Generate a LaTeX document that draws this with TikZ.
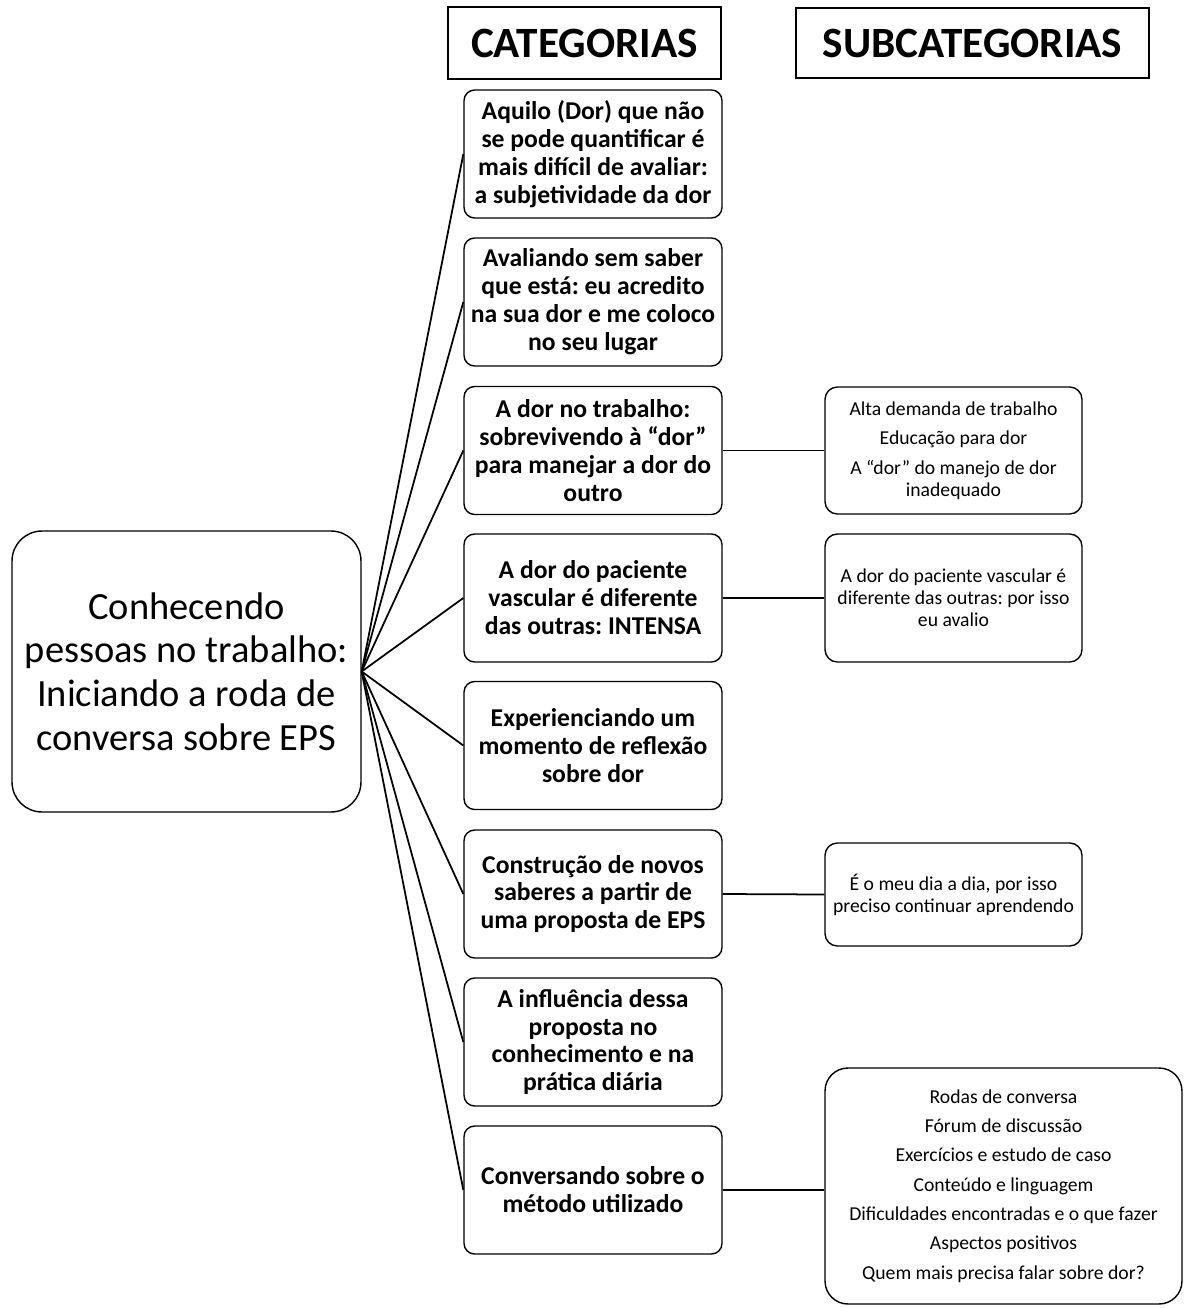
\documentclass[tikz,border=0pt]{standalone}
\usepackage{fontspec}
\setmainfont{Carlito}
\usepackage{tikz}
\frenchspacing

\begin{document}
\begin{tikzpicture} [x=0.02cm,y=-0.02cm,
  head/.style={draw, line width=0.9pt, inner sep=0pt, font=\fontsize{24.6}{28}\selectfont\bfseries},
  cat/.style={draw, line width=0.8pt, rounded corners=6pt, minimum width=5.16cm, minimum height=2.56cm, inner sep=0pt, align=center, font=\fontsize{14.6}{15.9}\selectfont\bfseries},
  sub/.style={draw, line width=0.8pt, rounded corners=7pt, minimum width=5.14cm, inner sep=0pt, align=center, font=\fontsize{11.2}{12.6}\selectfont},
  link/.style={line width=1pt}]
\useasboundingbox (0,0) rectangle (1184,1308);
% headers
\node [head, minimum width=5.46cm, minimum height=1.44cm] (hcat) at (584.5,43) {CATEGORIAS};
\node [head, minimum width=7.06cm, minimum height=1.40cm] (hsub) at (972.5,43) {SUBCATEGORIAS};
% central theme
\node [draw, line width=0.8pt, rounded corners=17pt, minimum width=6.98cm, minimum height=5.62cm, inner sep=0pt, align=center, font=\fontsize{21.9}{24.9}\selectfont] (main) at (186.5,671.5) {Conhecendo\\pessoas no trabalho:\\Iniciando a roda de\\conversa sobre EPS};
% categories
\node [cat] (c1) at (593,154) {Aquilo (Dor) que não\\se pode quantificar é\\mais difícil de avaliar:\\a subjetividade da dor};
\node [cat] (c2) at (593,302) {Avaliando sem saber\\que está: eu acredito\\na sua dor e me coloco\\no seu lugar};
\node [cat] (c3) at (593,450.5) {A dor no trabalho:\\sobrevivendo à “dor”\\para manejar a dor do\\outro};
\node [cat] (c4) at (593,598) {A dor do paciente\\vascular é diferente\\das outras: INTENSA};
\node [cat] (c5) at (593,745.5) {Experienciando um\\momento de reflexão\\sobre dor};
\node [cat] (c6) at (593,894) {Construção de novos\\saberes a partir de\\uma proposta de EPS};
\node [cat] (c7) at (593,1042) {A influência dessa\\proposta no\\conhecimento e na\\prática diária};
\node [cat] (c8) at (593,1190) {Conversando sobre o\\método utilizado};
% subcategories
\node [sub, minimum height=2.54cm] (s3) at (953.5,450.5) {Alta demanda de trabalho\\[4.1pt]Educação para dor\\[4.1pt]A “dor” do manejo de dor\\inadequado};
\node [sub, minimum height=2.56cm] (s4) at (953.5,598) {A dor do paciente vascular é\\diferente das outras: por isso\\eu avalio};
\node [sub, minimum height=2.06cm] (s6) at (953.5,894.5) {É o meu dia a dia, por isso\\preciso continuar aprendendo};
\node [sub, rounded corners=13pt, minimum width=7.14cm, minimum height=4.72cm] (s8) at (1003.5,1186) {Rodas de conversa\\[4.1pt]Fórum de discussão\\[4.1pt]Exercícios e estudo de caso\\[4.1pt]Conteúdo e linguagem\\[4.1pt]Dificuldades encontradas e o que fazer\\[4.1pt]Aspectos positivos\\[4.1pt]Quem mais precisa falar sobre dor?};
% connectors
\draw [link] (main.east)--(c1.west);
\draw [link] (main.east)--(c2.west);
\draw [link] (main.east)--(c3.west);
\draw [link] (main.east)--(c4.west);
\draw [link] (main.east)--(c5.west);
\draw [link] (main.east)--(c6.west);
\draw [link] (main.east)--(c7.west);
\draw [link] (main.east)--(c8.west);
\draw [link] (c3.east)--(s3.west);
\draw [link] (c4.east)--(s4.west);
\draw [link] (c6.east)--(s6.west);
\draw [link] (c8.east)--(s8.west |- c8.east);
\end{tikzpicture}
\end{document}
